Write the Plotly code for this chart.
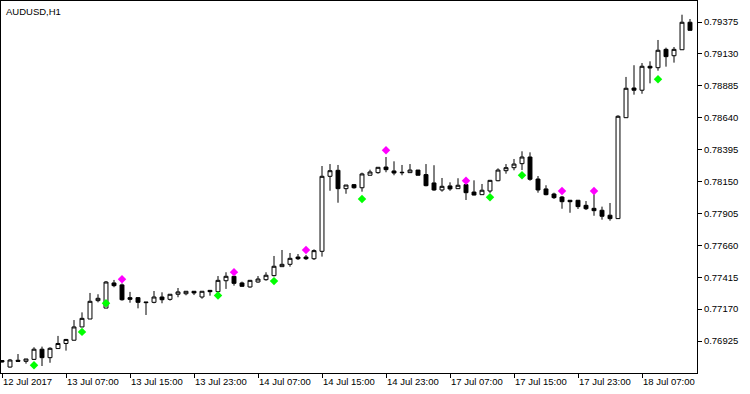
import plotly.graph_objects as go

# AUDUSD H1 bars, 12 Jul 2017 23:00 .. 18 Jul 2017 13:00 (bar index 0..86)
open_ = [0.76775, 0.76725, 0.76777, 0.76769, 0.76784, 0.76862, 0.76797, 0.76867, 0.76906, 0.76931,
         0.77033, 0.77094, 0.77235, 0.77178, 0.77371, 0.77356, 0.77258, 0.77258, 0.77225, 0.77222,
         0.77263, 0.77245, 0.77284, 0.77288, 0.77307, 0.77263, 0.77314, 0.77304, 0.77388, 0.77422,
         0.77371, 0.77340, 0.77378, 0.77396, 0.77427, 0.77496, 0.77514, 0.77570, 0.77570, 0.77557,
         0.77614, 0.78190, 0.78236, 0.78095, 0.78126, 0.78102, 0.78198, 0.78218, 0.78261, 0.78231,
         0.78221, 0.78218, 0.78238, 0.78203, 0.78139, 0.78085, 0.78116, 0.78095, 0.78126, 0.78069,
         0.78049, 0.78077, 0.78156, 0.78233, 0.78256, 0.78287, 0.78338, 0.78169, 0.78093, 0.78054,
         0.78031, 0.78006, 0.78006, 0.77967, 0.77944, 0.77929, 0.77891, 0.77865, 0.78640, 0.78868,
         0.78851, 0.79035, 0.79024, 0.79165, 0.79116, 0.79162, 0.79373]
high = [0.76779, 0.76787, 0.76825, 0.76787, 0.76877, 0.76882, 0.76877, 0.76964, 0.76941, 0.77086,
        0.77145, 0.77294, 0.77284, 0.77386, 0.77394, 0.77367, 0.77302, 0.77263, 0.77225, 0.77309,
        0.77299, 0.77286, 0.77332, 0.77309, 0.77309, 0.77309, 0.77317, 0.77424, 0.77453, 0.77424,
        0.77381, 0.77394, 0.77424, 0.77453, 0.77578, 0.77624, 0.77601, 0.77593, 0.77586, 0.77629,
        0.78269, 0.78284, 0.78277, 0.78123, 0.78131, 0.78218, 0.78241, 0.78261, 0.78338, 0.78305,
        0.78277, 0.78284, 0.78238, 0.78284, 0.78275, 0.78177, 0.78144, 0.78175, 0.78131, 0.78159,
        0.78131, 0.78162, 0.78251, 0.78284, 0.78323, 0.78382, 0.78374, 0.78192, 0.78121, 0.78064,
        0.78039, 0.78008, 0.78008, 0.78000, 0.78052, 0.77957, 0.77985, 0.78659, 0.78953, 0.79043,
        0.79060, 0.79073, 0.79237, 0.79178, 0.79183, 0.79431, 0.79398]
low = [0.76760, 0.76721, 0.76767, 0.76751, 0.76779, 0.76733, 0.76758, 0.76864, 0.76851, 0.76929,
       0.77031, 0.77094, 0.77222, 0.77178, 0.77338, 0.77235, 0.77219, 0.77176, 0.77125, 0.77215,
       0.77215, 0.77235, 0.77261, 0.77276, 0.77278, 0.77250, 0.77273, 0.77304, 0.77325, 0.77350,
       0.77342, 0.77335, 0.77373, 0.77388, 0.77421, 0.77496, 0.77496, 0.77547, 0.77547, 0.77547,
       0.77573, 0.78079, 0.77987, 0.78056, 0.78095, 0.78072, 0.78198, 0.78210, 0.78221, 0.78198,
       0.78198, 0.78218, 0.78198, 0.78113, 0.78079, 0.78072, 0.78079, 0.78095, 0.78008, 0.78044,
       0.78049, 0.78062, 0.78152, 0.78210, 0.78236, 0.78238, 0.78156, 0.78064, 0.78044, 0.78016,
       0.77941, 0.77910, 0.77939, 0.77931, 0.77887, 0.77857, 0.77849, 0.77862, 0.78638, 0.78817,
       0.78824, 0.78904, 0.79001, 0.79032, 0.79063, 0.79160, 0.79311]
close = [0.76764, 0.76779, 0.76769, 0.76787, 0.76862, 0.76797, 0.76869, 0.76906, 0.76937, 0.77033,
         0.77099, 0.77230, 0.77253, 0.77378, 0.77350, 0.77242, 0.77245, 0.77222, 0.77220, 0.77263,
         0.77242, 0.77284, 0.77302, 0.77307, 0.77294, 0.77307, 0.77304, 0.77391, 0.77422, 0.77368,
         0.77345, 0.77391, 0.77401, 0.77430, 0.77499, 0.77514, 0.77560, 0.77557, 0.77557, 0.77619,
         0.78190, 0.78233, 0.78095, 0.78123, 0.78102, 0.78208, 0.78223, 0.78259, 0.78241, 0.78215,
         0.78218, 0.78238, 0.78198, 0.78118, 0.78085, 0.78113, 0.78093, 0.78121, 0.78064, 0.78046,
         0.78083, 0.78159, 0.78238, 0.78256, 0.78284, 0.78338, 0.78167, 0.78085, 0.78049, 0.78026,
         0.77995, 0.77995, 0.77957, 0.77941, 0.77926, 0.77883, 0.77865, 0.78651, 0.78866, 0.78851,
         0.79035, 0.79022, 0.79158, 0.79109, 0.79165, 0.79373, 0.79311]

# indicator signals (bar index, price)
buy_idx = [4, 10, 13, 27, 34, 45, 61, 65, 82]
buy_val = [0.76739, 0.76995, 0.77215, 0.77275, 0.77385, 0.78016, 0.78029, 0.78198, 0.78935]
sell_idx = [15, 29, 38, 48, 58, 70, 74]
sell_val = [0.77399, 0.77454, 0.77624, 0.78390, 0.78156, 0.78077, 0.78077]

# axis labels
x_tick_idx = [0, 8, 16, 24, 32, 40, 48, 56, 64, 72, 80]
x_tick_text = ["12 Jul 2017", "13 Jul 07:00", "13 Jul 15:00", "13 Jul 23:00", "14 Jul 07:00",
               "14 Jul 15:00", "14 Jul 23:00", "17 Jul 07:00", "17 Jul 15:00", "17 Jul 23:00",
               "18 Jul 07:00"]
y_tick_vals = [0.76925, 0.77170, 0.77415, 0.77660, 0.77905, 0.78150, 0.78395, 0.78640, 0.78885,
               0.79130, 0.79375]

bars = list(range(len(open_)))
FONT = "Liberation Sans"
FS = 9.5

fig = go.Figure()
fig.add_trace(go.Candlestick(
    x=bars, open=open_, high=high, low=low, close=close,
    increasing=dict(line=dict(color="black", width=1), fillcolor="white"),
    decreasing=dict(line=dict(color="black", width=1), fillcolor="black"),
    whiskerwidth=0, showlegend=False, hoverinfo="skip"))
fig.add_trace(go.Scatter(
    x=buy_idx, y=buy_val, mode="markers",
    marker=dict(symbol="diamond", size=6.5, color="#00FF00", line=dict(width=0)),
    showlegend=False, hoverinfo="skip"))
fig.add_trace(go.Scatter(
    x=sell_idx, y=sell_val, mode="markers",
    marker=dict(symbol="diamond", size=6.5, color="#FF00FF", line=dict(width=0)),
    showlegend=False, hoverinfo="skip"))

fig.update_layout(
    width=750, height=394,
    margin=dict(l=1, r=53, t=1, b=21),
    paper_bgcolor="white", plot_bgcolor="white",
    font=dict(family=FONT, size=FS, color="black"),
    boxgap=0.3,
    xaxis=dict(
        type="linear", range=[-0.125, 86.875],
        rangeslider=dict(visible=False),
        tickmode="array", tickvals=x_tick_idx, ticktext=x_tick_text,
        ticks="outside", ticklen=4, tickcolor="black", tickwidth=1,
        ticklabelposition="outside right",
        showgrid=False, zeroline=False,
        showline=True, linecolor="black", linewidth=1, mirror=True,
        tickfont=dict(family=FONT, size=FS, color="black"),
    ),
    yaxis=dict(
        side="right", range=[0.766793, 0.795363],
        tickmode="array", tickvals=y_tick_vals,
        ticktext=[f"{v:.5f}" for v in y_tick_vals],
        ticks="outside", ticklen=4, tickcolor="black", tickwidth=1,
        showgrid=False, zeroline=False,
        showline=True, linecolor="black", linewidth=1, mirror=True,
        tickfont=dict(family=FONT, size=FS, color="black"),
    ),
    annotations=[dict(
        text="AUDUSD,H1", xref="paper", yref="paper", x=0, y=1,
        xanchor="left", yanchor="top", xshift=3, yshift=-3, showarrow=False,
        font=dict(family=FONT, size=FS, color="black"))],
)

fig.write_html("out.html", config={"displayModeBar": False},
               post_script="document.body.style.margin='0';")
